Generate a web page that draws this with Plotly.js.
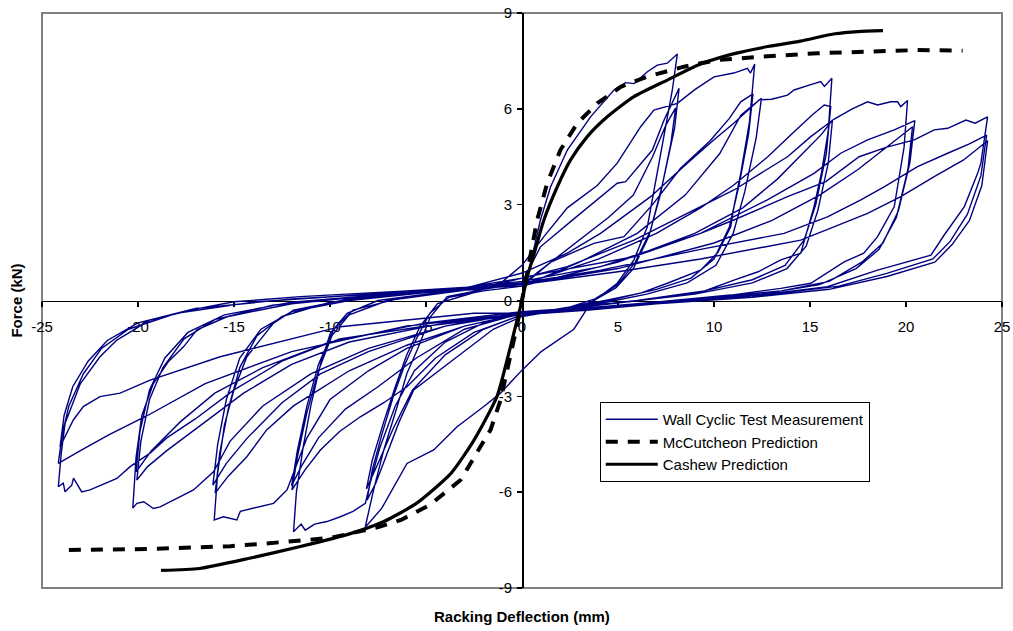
<!DOCTYPE html>
<html>
<head>
<meta charset="utf-8">
<script src="https://cdn.plot.ly/plotly-3.0.1.min.js"></script>
<style>
  html, body { margin: 0; padding: 0; background: #fff; }
  #chart { width: 1013px; height: 631px; }
</style>
</head>
<body>
<div id="chart"></div>
<script>
// Racking deflection (mm) vs force (kN): wall cyclic test and two model predictions.

// Cyclic test, grouped by target displacement (three cycles each), as [deflection, force] pairs.
const cycles8 = [
  [0,0],[0.5,1.3],[0.96,2.52],[1.49,3.56],[2.36,4.71],[3.57,5.75],[4.79,6.59],[5.4,6.82],[5.84,6.79],[6.53,7.16],[7.05,7.37],[7.57,7.43],[7.9,7.6],[8.09,7.72],
  [7.83,6.59],[7.05,3.98],[6.53,2.31],[5.83,1.27],[4.96,0.54],[3.57,-0.09],
  [2.7,-0.9],[1.0,-1.6],[0,-2.18],[-1.12,-2.9],[-1.99,-3.32],[-3.38,-3.95],[-4.6,-4.68],[-5.99,-5.1],[-6.86,-6.04],[-7.3,-6.5],[-7.99,-6.98],[-8.16,-7.08],
  [-7.73,-5.93],[-7.2,-4.68],[-6.5,-3.32],[-5.99,-2.28],[-5.46,-1.55],[-4.77,-0.51],[-3.9,0.12],[-2,0.35],
  [0,0.55],[0.96,1.68],[2.53,2.47],[3.92,3.15],[4.96,3.67],[5.4,3.72],[6.79,4.71],[7.4,5.65],[7.83,6.22],[8.18,6.64],
  [7.95,5.4],[7.3,3.6],[6.7,2.2],[5.9,1.2],[5.0,0.5],[3.8,0.05],[2,-0.3],
  [0,-0.5],[-1.5,-0.9],[-3.38,-1.76],[-4.5,-2.3],[-5.64,-2.8],[-6.4,-3.8],[-7.1,-4.9],[-7.6,-5.7],[-8.07,-6.25],
  [-7.8,-5.3],[-7.3,-4.2],[-6.7,-3.0],[-6.1,-2.0],[-5.5,-1.2],[-4.8,-0.4],[-3.8,0.1],[-2,0.3],
  [0,0.45],[1.5,1.2],[3,1.9],[4.5,2.6],[5.8,3.3],[6.8,4.5],[7.5,5.5],[8.0,6.03],
  [7.75,4.9],[7.2,3.3],[6.6,2.0],[5.8,1.0],[4.9,0.4],[3.6,-0.05],[2,-0.3],
  [0,-0.45],[-2,-0.9],[-4,-1.7],[-5.7,-2.8],[-6.7,-4.0],[-7.5,-5.1],[-8.1,-5.9],
  [-7.8,-5.0],[-7.2,-3.8],[-6.6,-2.7],[-6.0,-1.7],[-5.3,-0.8],[-4.4,-0.1],[-2.5,0.25]
];

const cycles12 = [
  [-1,0.6],[0,1.1],[1.14,2.0],[2.36,2.9],[3.92,3.6],[4.96,4.3],[6.18,5.44],[6.87,5.96],[7.22,6.02],[8.09,6.17],[9.0,6.6],[10.0,7.0],[11.03,7.12],[11.74,7.27],[11.9,7.12],[12.12,7.4],
  [11.85,5.6],[11.4,4.0],[11.04,2.94],[10.87,2.31],[10.2,1.5],[9.3,0.95],[7.57,0.54],[6.18,0.23],[3.5,-0.1],[1.5,-0.3],
  [0,-0.4],[-2,-0.7],[-4,-1.3],[-5.6,-2.2],[-6.6,-3.3],[-7.4,-4.6],[-7.9,-5.7],[-8.16,-6.35],[-8.8,-6.6],[-9.46,-6.77],[-10.16,-6.92],[-10.8,-7.0],[-11.29,-7.19],[-11.5,-7.0],[-11.9,-7.24],
  [-11.75,-6.0],[-11.4,-4.6],[-11.0,-3.3],[-10.5,-2.0],[-9.98,-1.02],[-9.11,-0.4],[-7.5,0.0],[-5,0.2],[-2.5,0.4],
  [0,0.5],[1.5,1.2],[3.74,1.79],[5.31,2.0],[6.8,3.0],[8.26,4.14],[9.8,5.0],[10.8,5.7],[11.39,6.22],[12.03,6.47],
  [11.8,5.2],[11.3,3.6],[10.8,2.3],[10.0,1.3],[8.8,0.7],[7.0,0.35],[4.5,0.0],[2,-0.3],
  [0,-0.45],[-2.5,-1.0],[-4.5,-1.8],[-5.99,-2.7],[-7.2,-3.2],[-8.42,-3.64],[-9.5,-4.1],[-10.5,-4.68],[-11.3,-5.3],[-11.98,-5.93],
  [-11.7,-4.9],[-11.2,-3.5],[-10.6,-2.2],[-9.9,-1.1],[-9.0,-0.45],[-7,0.0],[-4.5,0.2],[-2,0.4],
  [0,0.45],[3,1.2],[6,2.1],[8.5,3.3],[10.3,4.6],[11.4,5.8],[11.8,6.0],[12.47,6.33],
  [12.2,5.1],[11.6,3.4],[11.0,2.1],[10.1,1.1],[8.6,0.55],[6.5,0.2],[4,-0.1],[2,-0.3],
  [0,-0.4],[-3,-0.9],[-5.5,-1.8],[-7.5,-2.7],[-9.2,-3.4],[-10.6,-4.3],[-11.5,-5.2],[-12.0,-5.8],
  [-11.7,-4.7],[-11.2,-3.3],[-10.6,-2.0],[-9.8,-0.9],[-8.8,-0.3],[-6.5,0.05],[-3.5,0.3]
];

const cycles16 = [
  [0,0.86],[2.36,1.48],[4.09,2.1],[6.7,3.25],[8.61,4.3],[10.0,5.03],[11.03,5.55],[12.35,6.28],[13.0,6.3],[13.83,6.43],[14.17,6.59],[15.0,6.75],[15.56,6.85],[15.75,6.7],[16.14,6.96],
  [15.95,5.3],[15.6,4.0],[15.21,2.94],[14.52,1.48],[13.48,1.27],[12.3,0.9],[11.04,0.64],[9.3,0.25],[6,0.0],[3,-0.2],
  [0,-0.4],[-3,-0.8],[-6,-1.5],[-8,-2.2],[-10,-3.1],[-11.2,-4.3],[-11.9,-5.4],[-12.24,-5.93],[-12.94,-6.35],[-13.98,-6.51],[-14.67,-6.6],[-14.85,-6.87],[-15.55,-6.77],[-16.03,-6.87],
  [-15.85,-5.4],[-15.5,-3.9],[-15.0,-2.8],[-14.33,-1.76],[-12.94,-0.71],[-11.9,-0.3],[-9,0.05],[-5,0.3],[-2,0.45],
  [0,0.5],[4,1.3],[7,2.1],[9.3,2.9],[11,3.6],[12.8,4.5],[14.2,5.3],[15.1,5.8],[15.74,6.12],[16.08,6.07],
  [15.85,4.6],[15.3,3.0],[14.7,1.9],[13.7,1.1],[12,0.65],[9.5,0.3],[6,0.0],[3,-0.2],
  [0,-0.4],[-3,-0.8],[-6,-1.4],[-9,-2.2],[-11.9,-3.3],[-13.3,-4.05],[-14.33,-4.89],[-15.3,-5.5],[-15.98,-6.03],
  [-15.75,-4.8],[-15.3,-3.4],[-14.7,-2.1],[-13.8,-1.1],[-12.5,-0.5],[-10,-0.05],[-6,0.2],[-2.5,0.4],
  [0,0.45],[5,1.2],[9,2.1],[11.5,2.9],[13.3,3.8],[14.8,4.7],[15.6,5.2],[16.17,5.65],
  [15.95,4.3],[15.4,2.8],[14.8,1.7],[13.8,1.0],[12,0.55],[9,0.2],[5.5,-0.05],[2.5,-0.25],
  [0,-0.35],[-4,-0.8],[-8,-1.6],[-10.5,-2.3],[-12.5,-3.2],[-14.3,-4.3],[-15.4,-5.1],[-16.1,-5.78],
  [-15.85,-4.5],[-15.4,-3.1],[-14.7,-1.8],[-13.6,-0.9],[-12,-0.35],[-9,0.0],[-5,0.25],[-2,0.4]
];

const cycles20 = [
  [0,0.7],[2.36,1.06],[5.83,1.89],[8.61,2.73],[11.04,3.46],[12.43,3.98],[13.83,4.5],[15.04,5.13],[16.26,5.68],[17.2,6.0],[18.0,6.22],[18.52,6.12],[19.21,6.22],[19.56,6.22],[19.73,6.07],[20.08,6.26],
  [19.9,4.8],[19.39,2.94],[18.52,2.0],[17.8,1.48],[16.78,1.21],[15.04,0.54],[13.48,0.38],[10.87,0.17],[7,-0.05],[3.5,-0.25],
  [0,-0.4],[-4,-0.8],[-8,-1.5],[-11,-2.3],[-13.5,-3.3],[-15.2,-4.4],[-16.07,-5.36],[-17.11,-5.93],[-18.0,-6.2],[-18.85,-6.46],[-19.2,-6.51],[-19.7,-6.3],[-20.06,-6.35],[-20.27,-6.5],
  [-20.1,-4.9],[-19.8,-3.6],[-19.2,-2.6],[-18.4,-1.9],[-17.63,-1.45],[-16.93,-0.92],[-15.37,-0.51],[-12,-0.1],[-7,0.2],[-3,0.4],
  [0,0.6],[4.1,1.06],[9.3,2.1],[12.78,3.15],[15.21,3.98],[16.6,4.61],[18.0,5.03],[19.39,5.34],[20.46,5.63],
  [20.2,4.3],[19.6,2.8],[18.8,1.8],[17.7,1.2],[16,0.6],[13.5,0.3],[10,0.1],[6,-0.1],[3,-0.25],
  [0,-0.4],[-4,-0.7],[-9,-1.3],[-12,-2.0],[-14.5,-2.9],[-16.5,-3.8],[-18.5,-4.7],[-19.5,-5.2],[-20.06,-5.62],
  [-19.85,-4.4],[-19.4,-3.1],[-18.7,-2.1],[-17.6,-1.2],[-16,-0.6],[-13,-0.15],[-8,0.15],[-3,0.4],
  [0,0.5],[5,1.0],[10,1.8],[13,2.5],[15.5,3.3],[17.5,4.1],[19.2,4.9],[20.34,5.44],
  [20.1,4.1],[19.5,2.6],[18.6,1.6],[17.4,1.0],[15.5,0.5],[12.5,0.2],[8.5,0.0],[4,-0.2],
  [0,-0.35],[-5,-0.7],[-10,-1.3],[-13.5,-2.1],[-16,-2.9],[-17.8,-3.8],[-19.3,-4.7],[-20.1,-5.36],
  [-19.9,-4.1],[-19.4,-2.8],[-18.6,-1.8],[-17.4,-1.0],[-15.5,-0.45],[-12,-0.05],[-7,0.2],[-3,0.4]
];

const cycles24 = [
  [0,0.7],[1.14,0.85],[5.83,1.37],[9.3,2.1],[11.03,2.52],[13.83,3.25],[15.82,3.72],[17.56,4.5],[19,4.8],[20.43,5.03],[21.47,5.34],[22.17,5.39],[23.12,5.65],[23.6,5.55],[24.25,5.75],
  [23.9,4.3],[23.73,3.98],[23.04,2.94],[21.99,2.05],[21.3,1.42],[18.52,0.95],[15.91,0.43],[13.5,0.25],[11,0.1],[7,-0.1],[3.5,-0.3],
  [0,-0.45],[-5,-0.8],[-9.5,-1.2],[-12.5,-1.9],[-15,-2.8],[-17,-3.7],[-18.5,-4.3],[-19.37,-4.78],[-20.41,-5.2],[-21.1,-5.57],[-22.5,-5.93],[-22.93,-5.99],[-23.36,-5.56],[-23.45,-5.78],[-23.8,-5.99],[-23.89,-5.72],[-24.15,-5.83],
  [-24.0,-4.8],[-23.8,-3.85],[-23.0,-2.6],[-21.98,-1.76],[-21.1,-1.24],[-19.37,-0.61],[-16.76,-0.24],[-15,-0.04],[-11.55,0.12],[-6,0.3],[-2,0.45],
  [0,0.55],[4.1,0.95],[9.3,1.6],[13.65,2.1],[15.91,2.62],[17.65,3.15],[18.86,3.56],[20.6,4.19],[22.17,4.61],[23.3,4.9],[24.2,5.18],
  [23.9,3.9],[23.2,2.7],[22.3,1.85],[21.4,1.3],[19,0.85],[16.5,0.45],[13,0.2],[9,0.0],[4,-0.25],
  [0,-0.4],[-6,-0.8],[-12,-1.6],[-16.5,-2.6],[-19.5,-3.6],[-21.5,-4.2],[-23,-4.7],[-24.15,-5.1],
  [-23.95,-4.2],[-23.6,-3.3],[-22.85,-2.3],[-21.9,-1.5],[-20.5,-0.9],[-18,-0.4],[-14,-0.05],[-8,0.2],[-3,0.4],
  [0,0.5],[5,0.9],[9.3,1.3],[14.52,1.89],[18.0,2.73],[19.73,3.25],[21.47,3.88],[23.0,4.4],[24.25,5.0],
  [23.95,3.6],[23.3,2.5],[22.4,1.75],[21.5,1.2],[19,0.75],[16,0.35],[12,0.1],[7,-0.1],[3,-0.3],
  [0,-0.4],[-2.51,-0.4],[-9.46,-0.82],[-15.72,-1.76],[-19.37,-2.49],[-20.93,-2.9],[-21.98,-3.01],[-22.85,-3.32],[-23.37,-3.74],[-24.06,-4.58],
  [-23.85,-3.6],[-23.4,-2.7],[-22.6,-1.9],[-21.6,-1.25],[-20,-0.7],[-17,-0.25],[-12,0.05],[-6,0.25],[-2,0.35]
];

// McCutcheon prediction (deflection mm, force kN)
const mcDefl = [-23.6,-21.98,-19.5,-17.1,-15.2,-13.6,-12.2,-10.9,-9.8,-7.4,-6.3,-4.8,-3.2,-2.34,-1.64,-1.12,-0.6,-0.3,0,0.44,0.79,1.31,2.0,2.88,3.92,5.14,6.53,8.44,10.18,12.43,13.83,15.39,16.96,18.69,20.6,22.95];
const mcForce = [-7.81,-7.81,-7.78,-7.73,-7.69,-7.62,-7.56,-7.48,-7.41,-7.08,-6.87,-6.4,-5.62,-4.78,-4.05,-3.12,-1.76,-0.9,0,1.37,2.52,3.67,4.71,5.55,6.17,6.69,7.01,7.32,7.53,7.63,7.69,7.74,7.77,7.81,7.84,7.82];

// Cashew prediction (deflection mm, force kN)
const cwDefl = [-18.8,-16.8,-14.2,-11.6,-8.9,-7.2,-5.5,-3.7,-2.5,-1.3,-0.75,-0.25,0,0.3,0.6,1.14,1.84,2.53,3.4,4.44,5.83,7.57,9.3,11.0,12.8,14.5,16.3,17.5,18.8];
const cwForce = [-8.45,-8.39,-8.07,-7.71,-7.29,-6.92,-6.35,-5.41,-4.37,-3.0,-1.8,-0.6,0,0.8,1.4,2.52,3.56,4.4,5.13,5.75,6.38,6.9,7.4,7.72,7.95,8.12,8.35,8.42,8.45];

const xTicks = [-25,-20,-15,-10,-5,0,5,10,15,20,25];
const yTicks = [-9,-6,-3,0,3,6,9];

const testPairs = [].concat(cycles8, cycles12, cycles16, cycles20, cycles24);
const testDefl = testPairs.map(p => p[0]);
const testForce = testPairs.map(p => p[1]);

const FONT = 'Liberation Sans, Arial, sans-serif';

const traces = [
  {
    x: testDefl, y: testForce, type: 'scatter', mode: 'lines',
    name: 'Wall Cyclic Test Measurement', legendgroup: 'a',
    line: { color: '#000080', width: 1.4 }
  },
  {
    x: mcDefl, y: mcForce, type: 'scatter', mode: 'lines',
    name: 'McCutcheon Prediction', legendgroup: 'b',
    line: { color: '#000000', width: 4, dash: '12px,10px' }
  },
  {
    x: cwDefl, y: cwForce, type: 'scatter', mode: 'lines',
    name: 'Cashew Prediction', legendgroup: 'c',
    line: { color: '#000000', width: 3.2, shape: 'spline', smoothing: 0.6 }
  }
];

const axisCommon = {
  anchor: 'free', position: 0.5,
  showline: true, linecolor: '#000', linewidth: 1.5,
  ticks: 'outside', ticklen: 5, tickwidth: 1.5, tickcolor: '#000',
  showgrid: false, zeroline: false,
  tickfont: { family: FONT, size: 15, color: '#000' },
  layer: 'below traces', fixedrange: true
};

const layout = {
  width: 1013, height: 631,
  margin: { l: 42, r: 11, t: 13, b: 43 },
  paper_bgcolor: '#fff', plot_bgcolor: '#fff',
  showlegend: true,
  xaxis: Object.assign({}, axisCommon, {
    range: [-25, 25], tickvals: xTicks, ticktext: xTicks.map(String),
    ticklabelstandoff: 7
  }),
  yaxis: Object.assign({}, axisCommon, {
    range: [-9, 9], tickvals: yTicks, ticktext: yTicks.map(String),
    ticklabelstandoff: 2
  }),
  legend: {
    x: 0.581, y: 0.3235, xanchor: 'left', yanchor: 'top',
    bgcolor: '#fff', bordercolor: '#000', borderwidth: 1,
    font: { family: FONT, size: 15, color: '#000' },
    traceorder: 'grouped', tracegroupgap: 0, itemwidth: 52
  },
  shapes: [{
    type: 'rect', xref: 'paper', yref: 'paper', x0: 0, x1: 1, y0: 0, y1: 1,
    line: { color: '#808080', width: 2 }, layer: 'below'
  }],
  annotations: [
    {
      text: '<b>Racking Deflection (mm)</b>', xref: 'paper', yref: 'paper',
      x: 0.5, y: -0.05, xanchor: 'center', yanchor: 'middle', showarrow: false,
      font: { family: FONT, size: 15, color: '#000' }
    },
    {
      text: '<b>Force (kN)</b>', xref: 'paper', yref: 'paper',
      x: -0.027, y: 0.5, xanchor: 'center', yanchor: 'middle', showarrow: false,
      textangle: -90, font: { family: FONT, size: 15, color: '#000' }
    }
  ]
};

Plotly.newPlot('chart', traces, layout, { displayModeBar: false, staticPlot: true });
</script>
</body>
</html>
